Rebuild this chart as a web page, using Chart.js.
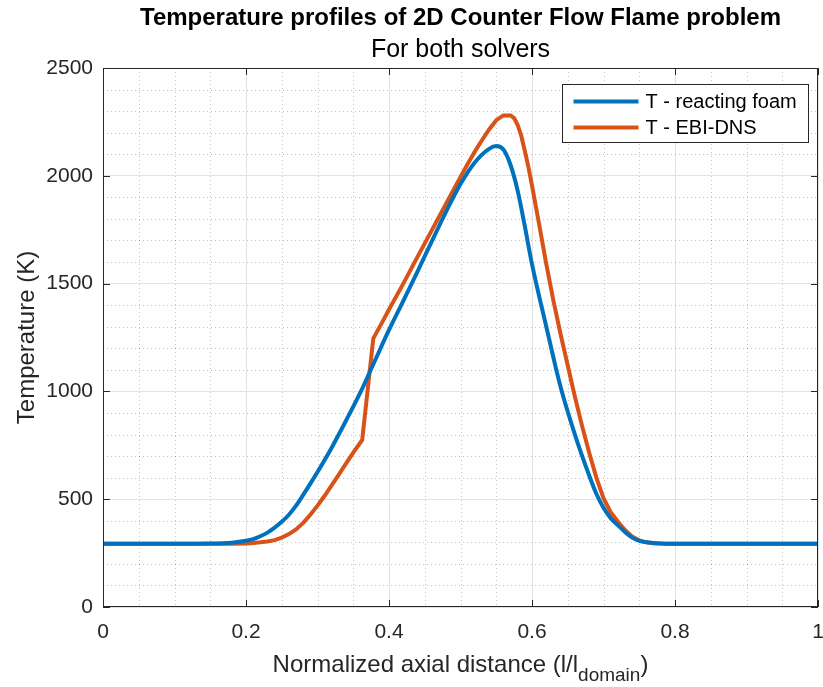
<!DOCTYPE html>
<html>
<head>
<meta charset="utf-8">
<script src="https://cdn.jsdelivr.net/npm/chart.js@4"></script>
<style>
  html, body { margin: 0; padding: 0; background: #fff; }
  #wrap { width: 823px; height: 687px; }
</style>
</head>
<body>
<div id="wrap"><canvas id="chart" width="823" height="687"></canvas></div>
<script>
const FONT = "'Liberation Sans', Arial, Helvetica, sans-serif";
const INK = '#262626';

const titleText = 'Temperature profiles of 2D Counter Flow Flame problem';
const subtitleText = 'For both solvers';
const yLabel = 'Temperature (K)';
const xLabelMain = 'Normalized axial distance (l/l';
const xLabelSub = 'domain';

const xTicks = [0, 0.2, 0.4, 0.6, 0.8, 1];
const yTicks = [0, 500, 1000, 1500, 2000, 2500];

// T - reacting foam
const xFoam = [0, 0.10, 0.15, 0.18, 0.20, 0.21, 0.22, 0.23, 0.24, 0.25, 0.26, 0.27, 0.28, 0.29,
  0.30, 0.32, 0.34, 0.36, 0.38, 0.40, 0.42, 0.44, 0.46, 0.48, 0.50, 0.52, 0.54, 0.55, 0.56,
  0.57, 0.58, 0.59, 0.60, 0.62, 0.64, 0.66, 0.68, 0.69, 0.70, 0.71, 0.72, 0.73, 0.74, 0.75,
  0.76, 0.78, 0.80, 1.0];
const tFoam = [293, 293, 294, 298, 307, 315, 328, 345, 368, 395, 428, 470, 520, 572,
  626, 740, 865, 995, 1140, 1285, 1420, 1557, 1697, 1835, 1962, 2062, 2125, 2138, 2122,
  2050, 1930, 1765, 1590, 1300, 1020, 800, 610, 525, 460, 412, 380, 348, 322, 307,
  300, 294, 293, 293];

// T - EBI-DNS
const xEbi = [0, 0.15, 0.18, 0.20, 0.21, 0.22, 0.23, 0.24, 0.25, 0.26, 0.27, 0.28, 0.29, 0.30, 0.31,
  0.32, 0.33, 0.34, 0.35, 0.3625, 0.378, 0.39, 0.40, 0.42, 0.44, 0.46, 0.48, 0.50, 0.51,
  0.52, 0.53, 0.54, 0.55, 0.56, 0.57, 0.575, 0.58, 0.585, 0.59, 0.595, 0.60, 0.61, 0.62,
  0.63, 0.64, 0.65, 0.66, 0.67, 0.68, 0.69, 0.70, 0.71, 0.72, 0.73, 0.74, 0.75, 0.76,
  0.77, 0.78, 0.80, 1.0];
const tEbi = [293, 293, 293, 295, 297, 300, 304, 310, 322, 338, 360, 390, 428, 470, 516,
  565, 615, 666, 716, 775, 1245, 1318, 1380, 1500, 1625, 1748, 1872, 1995, 2055,
  2112, 2165, 2215, 2258, 2280, 2280, 2268, 2235, 2185, 2115, 2040, 1955, 1775, 1590,
  1420, 1265, 1120, 975, 840, 715, 600, 505, 440, 397, 357, 327, 309, 300,
  296, 294, 293, 293];

const seriesLabels = ['T - reacting foam', 'T - EBI-DNS'];
const seriesColors = ['#0072BD', '#D95319'];

function pts(xs, ys) {
  return xs.map((x, i) => ({ x: x, y: ys[i] }));
}

const matlabAxes = {
  id: 'matlabAxes',
  beforeDatasetsDraw(chart) {
    const { ctx, chartArea: a, scales } = chart;
    ctx.save();
    ctx.strokeStyle = 'rgba(38,38,38,0.28)';
    ctx.lineWidth = 1;
    ctx.setLineDash([1, 3]);
    for (let i = 1; i < 20; i++) {
      if (i % 4 === 0) continue;
      const px = Math.round(scales.x.getPixelForValue(i * 0.05)) + 0.5;
      ctx.beginPath(); ctx.moveTo(px, a.top); ctx.lineTo(px, a.bottom); ctx.stroke();
    }
    for (let v = 100; v < 2500; v += 100) {
      if (v % 500 === 0) continue;
      const py = Math.round(scales.y.getPixelForValue(v)) + 0.5;
      ctx.beginPath(); ctx.moveTo(a.left, py); ctx.lineTo(a.right, py); ctx.stroke();
    }
    ctx.restore();
  },
  afterDatasetsDraw(chart) {
    const { ctx, chartArea: a, scales } = chart;
    const cx = (a.left + a.right) / 2;
    ctx.save();
    // box and inward ticks
    ctx.strokeStyle = INK;
    ctx.lineWidth = 1;
    ctx.strokeRect(Math.round(a.left) + 0.5, Math.round(a.top) + 0.5,
      Math.round(a.right - a.left) - 1, Math.round(a.bottom - a.top) - 1);
    const tl = 7;
    ctx.beginPath();
    xTicks.forEach(v => {
      const px = Math.round(scales.x.getPixelForValue(v)) + 0.5;
      ctx.moveTo(px, a.bottom); ctx.lineTo(px, a.bottom - tl);
      ctx.moveTo(px, a.top); ctx.lineTo(px, a.top + tl);
    });
    yTicks.forEach(v => {
      const py = Math.round(scales.y.getPixelForValue(v)) + 0.5;
      ctx.moveTo(a.left, py); ctx.lineTo(a.left + tl, py);
      ctx.moveTo(a.right, py); ctx.lineTo(a.right - tl, py);
    });
    ctx.stroke();

    // legend
    const bw = 246, bh = 58;
    const bx = Math.round(a.right - 10 - bw) + 0.5, by = Math.round(a.top + 16) + 0.5;
    ctx.fillStyle = '#fff';
    ctx.fillRect(bx, by, bw, bh);
    ctx.strokeStyle = INK;
    ctx.strokeRect(bx, by, bw, bh);
    ctx.font = '20px ' + FONT;
    ctx.textBaseline = 'middle';
    ctx.textAlign = 'left';
    chart.data.datasets.forEach((ds, i) => {
      const yy = by + 17 + i * 26;
      ctx.strokeStyle = ds.borderColor;
      ctx.lineWidth = 4;
      ctx.beginPath(); ctx.moveTo(bx + 11, yy); ctx.lineTo(bx + 76, yy); ctx.stroke();
      ctx.fillStyle = '#000';
      ctx.fillText(ds.label, bx + 83, yy + 1);
    });

    // title and subtitle, centred over the axes
    ctx.fillStyle = '#000';
    ctx.textAlign = 'center';
    ctx.textBaseline = 'middle';
    ctx.font = 'bold 24px ' + FONT;
    ctx.fillText(titleText, cx, 18);
    ctx.font = '25px ' + FONT;
    ctx.fillText(subtitleText, cx, 50);

    // axis titles
    ctx.fillStyle = INK;
    ctx.textAlign = 'left';
    ctx.textBaseline = 'alphabetic';
    ctx.font = '24px ' + FONT;
    const wMain = ctx.measureText(xLabelMain).width;
    ctx.font = '19px ' + FONT;
    const wSub = ctx.measureText(xLabelSub).width;
    ctx.font = '24px ' + FONT;
    const wClose = ctx.measureText(')').width;
    const x0 = cx - (wMain + wSub + wClose) / 2;
    const base = 672;
    ctx.fillText(xLabelMain, x0, base);
    ctx.fillText(')', x0 + wMain + wSub, base);
    ctx.font = '19px ' + FONT;
    ctx.fillText(xLabelSub, x0 + wMain, base + 9);

    ctx.font = '24px ' + FONT;
    ctx.translate(27, (a.top + a.bottom) / 2);
    ctx.rotate(-Math.PI / 2);
    ctx.textAlign = 'center';
    ctx.textBaseline = 'middle';
    ctx.fillText(yLabel, 0, 0);
    ctx.restore();
  }
};

const ctx = document.getElementById('chart').getContext('2d');
new Chart(ctx, {
  type: 'line',
  data: {
    datasets: [
      {
        label: seriesLabels[0],
        data: pts(xFoam, tFoam),
        borderColor: seriesColors[0],
        borderWidth: 4,
        pointRadius: 0,
        cubicInterpolationMode: 'monotone',
        fill: false
      },
      {
        label: seriesLabels[1],
        data: pts(xEbi, tEbi),
        borderColor: seriesColors[1],
        borderWidth: 4,
        pointRadius: 0,
        tension: 0,
        fill: false
      }
    ]
  },
  options: {
    responsive: false,
    animation: false,
    layout: { padding: { left: 0, right: 5, top: 68, bottom: 0 } },
    plugins: {
      legend: { display: false },
      tooltip: { enabled: false },
      title: { display: false }
    },
    scales: {
      x: {
        type: 'linear',
        min: 0,
        max: 1,
        afterFit: s => { s.height = 80; s.paddingLeft = 0; s.paddingRight = 0; },
        afterBuildTicks: s => { s.ticks = xTicks.map(v => ({ value: v })); },
        ticks: {
          color: INK,
          font: { family: FONT, size: 21 },
          padding: 13,
          maxRotation: 0,
          callback: v => String(Number(v.toFixed(2)))
        },
        grid: { color: '#e2e2e2', lineWidth: 1, drawTicks: false },
        border: { display: false }
      },
      y: {
        type: 'linear',
        min: 0,
        max: 2500,
        afterFit: s => { s.width = 103; s.paddingTop = 0; s.paddingBottom = 0; },
        afterBuildTicks: s => { s.ticks = yTicks.map(v => ({ value: v })); },
        ticks: {
          color: INK,
          font: { family: FONT, size: 21 },
          padding: 10,
          callback: v => String(v)
        },
        grid: { color: '#e2e2e2', lineWidth: 1, drawTicks: false },
        border: { display: false }
      }
    }
  },
  plugins: [matlabAxes]
});
</script>
</body>
</html>
